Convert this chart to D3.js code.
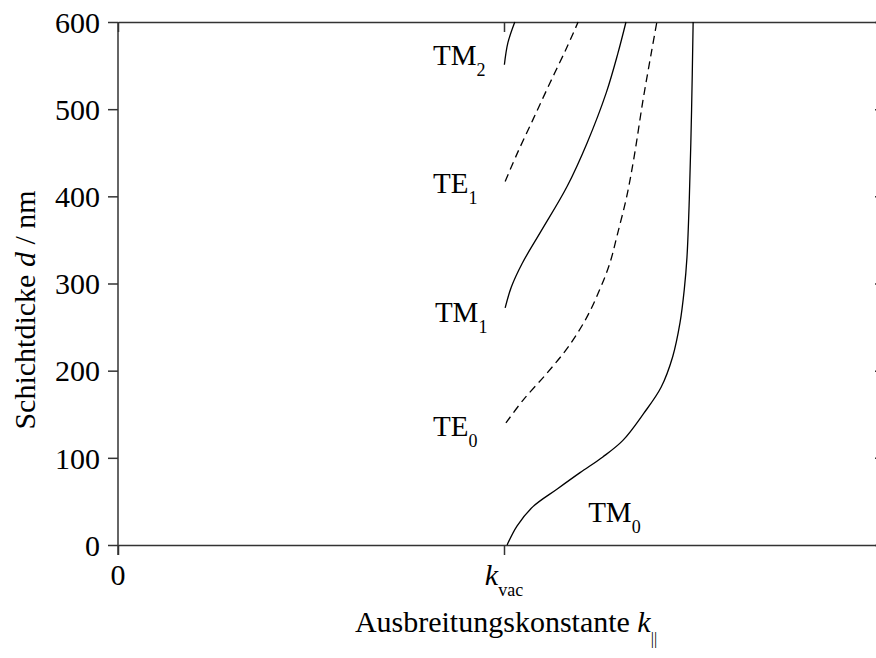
<!DOCTYPE html>
<html>
<head>
<meta charset="utf-8">
<script src="https://cdn.jsdelivr.net/npm/d3@7"></script>
<style>
  body { margin: 0; background: #fff; }
  text { font-family: "Liberation Serif", "Times New Roman", serif; fill: #000; }
  .axis path, .axis line { stroke: #333; stroke-width: 1.5; }
  .mode { fill: none; stroke: #000; stroke-width: 1.3; }
  .mode.te { stroke-dasharray: 8,5; }
</style>
</head>
<body>
<div class="container"></div>
<script>
  // k in units of k_vac, d in nm
  var tm0 = [[1.008, 0], [1.034, 22], [1.075, 44], [1.137, 64], [1.197, 83], [1.256, 101],
    [1.308, 120], [1.362, 151], [1.407, 181], [1.437, 216], [1.456, 255], [1.467, 293],
    [1.474, 330], [1.480, 396], [1.486, 500], [1.490, 600]];
  var te0 = [[1.005, 140], [1.049, 166], [1.111, 197], [1.166, 227], [1.213, 260], [1.248, 293],
    [1.274, 323], [1.293, 355], [1.318, 400], [1.337, 445], [1.360, 510], [1.383, 568], [1.396, 600]];
  var tm1 = [[1.003, 272], [1.019, 296], [1.047, 323], [1.096, 360], [1.163, 411],
    [1.215, 461], [1.265, 519], [1.295, 564], [1.316, 600]];
  var te1 = [[1.003, 417], [1.034, 449], [1.075, 488], [1.119, 530], [1.163, 571], [1.192, 600]];
  var tm2 = [[1.001, 551], [1.010, 576], [1.028, 600]];

  var modeNames = ["TM0", "TE0", "TM1", "TE1", "TM2"];
  var yTicks = [0, 100, 200, 300, 400, 500, 600];
  var xTicks = [0, 1];

  var width = 876,
    height = 658;

  var x = d3.scaleLinear().domain([0, 2]).range([118, 890]);
  var y = d3.scaleLinear().domain([0, 600]).range([545, 22]);

  var svg = d3.select(".container").append("svg")
    .attr("width", width)
    .attr("height", height);

  // axes
  svg.append("g")
    .attr("class", "axis")
    .attr("transform", "translate(0," + y(0) + ")")
    .call(d3.axisBottom(x).tickValues(xTicks).tickSize(10).tickSizeOuter(0).tickFormat(""));

  svg.append("g")
    .attr("class", "axis")
    .attr("transform", "translate(0," + y(600) + ")")
    .call(d3.axisTop(x).tickValues(xTicks).tickSize(-10).tickSizeOuter(0).tickFormat(""));

  var yAxis = svg.append("g")
    .attr("class", "axis")
    .attr("transform", "translate(" + x(0) + ",0)")
    .call(d3.axisLeft(y).tickValues(yTicks).tickSize(10).tickSizeOuter(0).tickPadding(8));
  yAxis.selectAll("text")
    .style("font-size", "30px")
    .attr("dy", "0.34em");
  yAxis.select(".domain").attr("d", "M0," + (y(0) + 10) + "V" + y(600));

  svg.append("g")
    .attr("class", "axis")
    .attr("transform", "translate(" + x(2) + ",0)")
    .call(d3.axisRight(y).tickValues(yTicks).tickSize(-15).tickSizeOuter(0).tickFormat(""));

  // x tick labels
  svg.append("text")
    .attr("x", x(0))
    .attr("y", 585)
    .attr("text-anchor", "middle")
    .style("font-size", "30px")
    .text("0");

  var kvac = svg.append("text")
    .attr("x", x(1))
    .attr("y", 585)
    .attr("text-anchor", "middle")
    .style("font-size", "30px");
  kvac.append("tspan").style("font-style", "italic").text("k");
  kvac.append("tspan").attr("dy", 11).style("font-size", "18px").text("vac");

  // axis titles
  var xTitle = svg.append("text")
    .attr("x", x(1) + 2)
    .attr("y", 632)
    .attr("text-anchor", "middle")
    .style("font-size", "30px");
  xTitle.append("tspan").text("Ausbreitungskonstante ");
  xTitle.append("tspan").style("font-style", "italic").text("k");
  xTitle.append("tspan").attr("dy", 12).style("font-size", "16px").text("||");

  var yTitle = svg.append("text")
    .attr("transform", "translate(35,310) rotate(-90)")
    .attr("text-anchor", "middle")
    .style("font-size", "30px");
  yTitle.append("tspan").text("Schichtdicke ");
  yTitle.append("tspan").style("font-style", "italic").text("d");
  yTitle.append("tspan").text(" / nm");

  // mode curves
  var line = d3.line()
    .x(function(d) { return x(d[0]); })
    .y(function(d) { return y(d[1]); })
    .curve(d3.curveCatmullRom.alpha(0.5));

  var modes = [tm0, te0, tm1, te1, tm2];
  svg.selectAll(".mode")
    .data(modes)
    .enter().append("path")
    .attr("class", function(d, i) { return "mode " + (modeNames[i].indexOf("TE") === 0 ? "te" : "tm"); })
    .attr("d", line);

  // mode labels (anchor in data coords)
  var labels = [
    { name: "TM0", k: 1.218, d: 26 },
    { name: "TE0", k: 0.816, d: 125 },
    { name: "TM1", k: 0.821, d: 256 },
    { name: "TE1", k: 0.816, d: 404 },
    { name: "TM2", k: 0.816, d: 551 }
  ];

  labels.forEach(function(l) {
    var t = svg.append("text")
      .attr("x", x(l.k))
      .attr("y", y(l.d))
      .style("font-size", "29px");
    t.append("tspan").text(l.name.slice(0, 2));
    t.append("tspan").attr("dy", 11).style("font-size", "18px").text(l.name.slice(2));
  });
</script>
</body>
</html>
